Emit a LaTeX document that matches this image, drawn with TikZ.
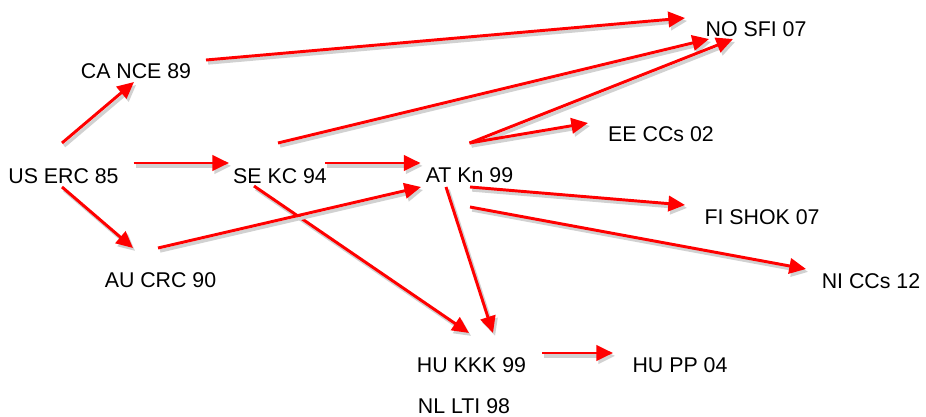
\documentclass[tikz,border=0pt]{standalone}
\usepackage{fontspec}
\setmainfont{Liberation Sans}
\usetikzlibrary{arrows.meta}

\tikzset{
  lab/.style={inner sep=0pt, font=\fontsize{16}{19}\selectfont},
  arr/.style={red, line width=2.2pt,
    -{Triangle[length=12.5pt, width=11.5pt]},
    preaction={draw=black!18, line width=2.6pt,
      transform canvas={shift={(1.6pt,-2.2pt)}}}},
}

\begin{document}
\begin{tikzpicture}[x=0.75pt, y=-0.75pt]
  \useasboundingbox (0,0) rectangle (926,417);

  % Left side
  \node[lab] (us) at (63.5,176) {US ERC 85};
  \node[lab] (ca) at (136,71) {CA NCE 89};
  \node[lab] (au) at (160.5,280) {AU CRC 90};
  \node[lab] (se) at (280,176) {SE KC 94};

  % Middle
  \node[lab] (at) at (469.5,175) {AT Kn 99};
  \node[lab] (hukkk) at (471.5,365) {HU KKK 99};
  \node[lab] (nl) at (464,406) {NL LTI 98};
  \node[lab] (hupp) at (680,365) {HU PP 04};

  % Right side
  \node[lab] (no) at (756,29) {NO SFI 07};
  \node[lab] (ee) at (661,134) {EE CCs 02};
  \node[lab] (fi) at (762,217) {FI SHOK 07};
  \node[lab] (ni) at (871,281) {NI CCs 12};

  % Links
  \draw[arr] ([shift={(-1.5,-33)}]us.center) -- ([shift={(-2,11)}]ca.center);
  \draw[arr] ([shift={(70,-13)}]us.center) -- ([shift={(-51,-13)}]se.center);
  \draw[arr] ([shift={(-1.5,11)}]us.center) -- ([shift={(-27.5,-32)}]au.center);
  \draw[arr] ([shift={(70,-11)}]ca.center) -- ([shift={(-71,-11)}]no.center);
  \draw[arr] ([shift={(-2,-33)}]se.center) -- ([shift={(-47,10)}]no.center);
  \draw[arr] ([shift={(45,-13)}]se.center) -- ([shift={(-49,-12)}]at.center);
  \draw[arr] ([shift={(-26,10)}]se.center) -- ([shift={(-2.5,-32)}]hukkk.center);
  \draw[arr] ([shift={(-2.5,-32)}]au.center) -- ([shift={(-48.5,12)}]at.center);
  \draw[arr] ([shift={(0,-32)}]at.center) -- ([shift={(-23,10)}]no.center);
  \draw[arr] ([shift={(0,-32)}]at.center) -- ([shift={(-73,-11)}]ee.center);
  \draw[arr] ([shift={(0.5,12)}]at.center) -- ([shift={(-77,-12)}]fi.center);
  \draw[arr] ([shift={(0.5,32)}]at.center) -- ([shift={(-65,-12)}]ni.center);
  \draw[arr] ([shift={(-23.5,12)}]at.center) -- ([shift={(21.5,-32)}]hukkk.center);
  \draw[arr] ([shift={(70.5,-12)}]hukkk.center) -- ([shift={(-67,-12)}]hupp.center);
\end{tikzpicture}
\end{document}
